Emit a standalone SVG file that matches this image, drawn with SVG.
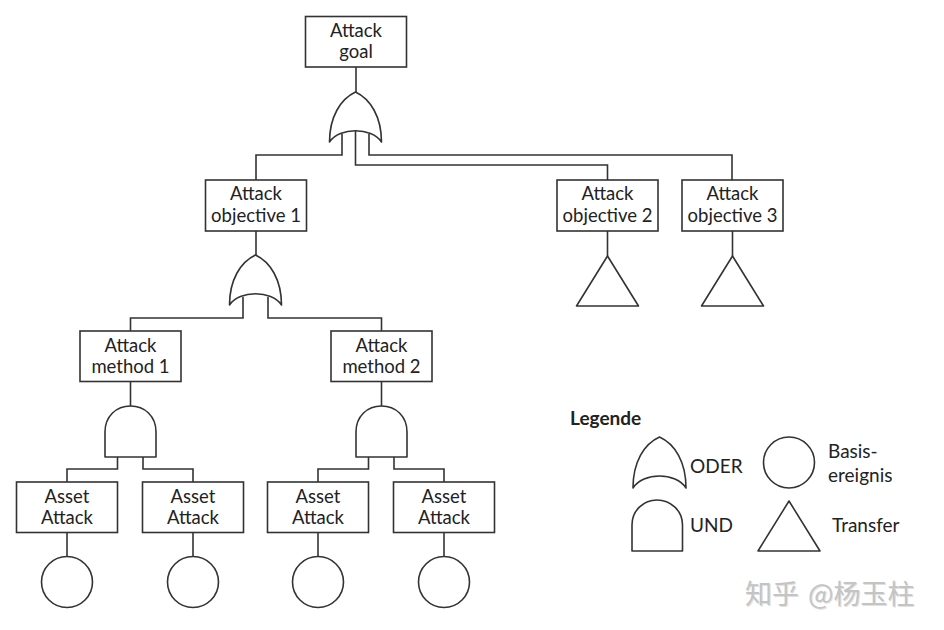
<svg xmlns="http://www.w3.org/2000/svg" width="944" height="630" viewBox="0 0 944 630">
<style>
.box{fill:#fff;stroke:#333;stroke-width:1.6}
.sh{fill:#fff;stroke:#333;stroke-width:1.6;stroke-linejoin:round}
.ln{fill:none;stroke:#333;stroke-width:1.6}
.t{font-family:Lato,"Liberation Sans",sans-serif;font-size:18.5px;fill:#222;text-anchor:middle}
.lt{font-family:Lato,"Liberation Sans",sans-serif;font-size:19px;fill:#222}
.wm{font-family:"Noto Sans CJK SC",sans-serif;font-size:27px;fill:#c4c4c4}
</style>
<defs>
<path id="orgate" d="M0 0 C-15 7 -26 25 -26 50 C-16 35 16 35 26 50 C26 25 15 7 0 0 Z"/>
<path id="andgate" d="M-25.5 51 L-25.5 26 C-25.5 10 -14 0 0 0 C14 0 25.5 10 25.5 26 L25.5 51 Z"/>
<path id="tri" d="M0 0 L31 50 L-31 50 Z"/>
</defs>
<rect width="944" height="630" fill="#fff"/>
<g id="connectors" class="ln">
<path d="M356 67 V92"/>
<path d="M342 134 V155 H256 V180"/>
<path d="M369 134 V155 H732 V180"/>
<path d="M355.5 130 V165 H607.5 V180"/>
<path d="M256 231 V255"/>
<path d="M607.5 231 V256"/>
<path d="M732.5 231 V256"/>
<path d="M243 297 V318 H130.5 V331"/>
<path d="M268 297 V318 H381.5 V331"/>
<path d="M130.5 381 V406"/>
<path d="M381.5 381 V406"/>
<path d="M117.5 457 V469 H67 V482"/>
<path d="M143 457 V469 H193 V482"/>
<path d="M368.5 457 V469 H318 V482"/>
<path d="M394 457 V469 H444 V482"/>
<path d="M67 532 V557"/>
<path d="M193 532 V557"/>
<path d="M318 532 V557"/>
<path d="M444 532 V557"/>
</g>
<g id="goal"><rect class="box" x="305.5" y="16.5" width="101" height="50.5"/><text class="t" x="356" y="37">Attack</text><text class="t" x="356" y="58">goal</text></g>
<g id="or-top"><use href="#orgate" class="sh" x="355.5" y="92"/></g>
<g id="obj1"><rect class="box" x="205.5" y="180" width="101" height="51"/><text class="t" x="256" y="200">Attack</text><text class="t" x="256" y="222">objective 1</text></g>
<g id="obj2"><rect class="box" x="557" y="180" width="101" height="51"/><text class="t" x="607.5" y="200">Attack</text><text class="t" x="607.5" y="222">objective 2</text></g>
<g id="obj3"><rect class="box" x="682" y="180" width="101" height="51"/><text class="t" x="732.5" y="200">Attack</text><text class="t" x="732.5" y="222">objective 3</text></g>
<g id="tri2"><use href="#tri" class="sh" x="607.5" y="256"/></g>
<g id="tri3"><use href="#tri" class="sh" x="732.5" y="256"/></g>
<g id="or-obj1"><use href="#orgate" class="sh" x="255.5" y="255"/></g>
<g id="method1"><rect class="box" x="80" y="331" width="101" height="50.5"/><text class="t" x="130.5" y="352">Attack</text><text class="t" x="130.5" y="373">method 1</text></g>
<g id="method2"><rect class="box" x="331" y="331" width="101" height="50.5"/><text class="t" x="381.5" y="352">Attack</text><text class="t" x="381.5" y="373">method 2</text></g>
<g id="and1"><use href="#andgate" class="sh" x="130.5" y="406"/></g>
<g id="and2"><use href="#andgate" class="sh" x="381.5" y="406"/></g>
<g id="asset1"><rect class="box" x="16.5" y="482" width="101" height="50.5"/><text class="t" x="67" y="503">Asset</text><text class="t" x="67" y="524">Attack</text></g>
<g id="asset2"><rect class="box" x="142.5" y="482" width="101" height="50.5"/><text class="t" x="193" y="503">Asset</text><text class="t" x="193" y="524">Attack</text></g>
<g id="asset3"><rect class="box" x="267.5" y="482" width="101" height="50.5"/><text class="t" x="318" y="503">Asset</text><text class="t" x="318" y="524">Attack</text></g>
<g id="asset4"><rect class="box" x="393.5" y="482" width="101" height="50.5"/><text class="t" x="444" y="503">Asset</text><text class="t" x="444" y="524">Attack</text></g>
<g id="basic1"><circle class="sh" cx="67" cy="582" r="25.5"/></g>
<g id="basic2"><circle class="sh" cx="193" cy="582" r="25.5"/></g>
<g id="basic3"><circle class="sh" cx="318" cy="582" r="25.5"/></g>
<g id="basic4"><circle class="sh" cx="444" cy="582" r="25.5"/></g>
<g id="legend">
<text class="lt" x="570" y="425" font-weight="bold">Legende</text>
<path class="sh" d="M659.5 437 C644 444 633 462 633 488 C643 472 676 472 686 488 C686 462 675 444 659.5 437 Z"/>
<text class="lt" x="690" y="473">ODER</text>
<path class="sh" d="M632 551 L632 525 C632 510 644 500 657 500 C670 500 682.5 510 682.5 525 L682.5 551 Z"/>
<text class="lt" x="690" y="532">UND</text>
<circle class="sh" cx="789" cy="462.5" r="25.5"/>
<text class="lt" x="828" y="458">Basis-</text>
<text class="lt" x="828" y="482">ereignis</text>
<path class="sh" d="M789 501 L820 551 L758 551 Z"/>
<text class="lt" x="832" y="532">Transfer</text>
</g>
<g id="watermark">
<text class="wm" x="746" y="605" fill="#9a9a9a" opacity="0.5">知乎</text>
<text class="wm" x="745" y="604">知乎</text>
<text class="wm" x="809" y="605" fill="#9a9a9a" opacity="0.5">@杨玉柱</text>
<text class="wm" x="808" y="604">@杨玉柱</text>
</g>
</svg>
